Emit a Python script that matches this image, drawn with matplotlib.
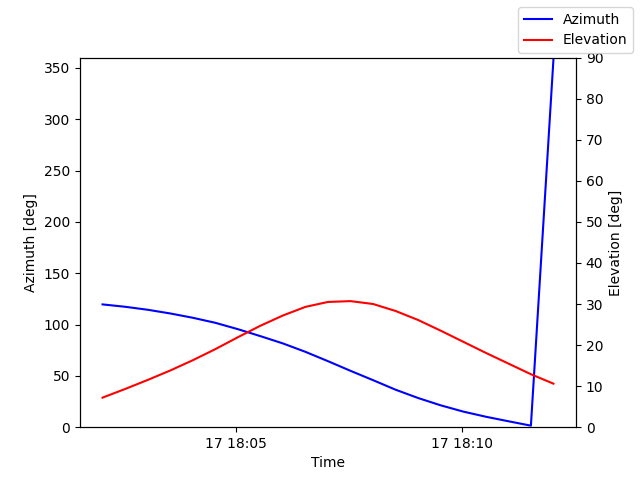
"""Satellite pass: azimuth and elevation against time."""
import matplotlib
matplotlib.use("Agg")
import matplotlib.pyplot as plt
import pandas as pd

start = "2023-03-17 18:02:02"
step_s = 30

azimuth = [119.6, 117.3, 114.4, 110.8, 106.6, 101.7, 95.5, 88.7, 81.6, 73.4,
           64.3, 54.9, 45.8, 36.5, 28.4, 21.3, 15.2, 10.2, 5.8, 1.5, 358.5]
elevation = [7.2, 9.3, 11.5, 13.8, 16.3, 19.0, 21.9, 24.7, 27.2, 29.3,
             30.5, 30.7, 30.0, 28.3, 26.1, 23.5, 20.8, 18.1, 15.5, 12.9, 10.6]

times = pd.date_range(start, periods=len(azimuth), freq=f"{step_s}s").to_pydatetime()

fig, ax = plt.subplots(figsize=(6.4, 4.8), dpi=100)
ax.plot(times, azimuth, "b", label="Azimuth")
ax.set_ylim(0, 360)
ax.set_ylabel("Azimuth [deg]")
ax.set_xlabel("Time")

ax2 = ax.twinx()
ax2.plot(times, elevation, "r", label="Elevation")
ax2.set_ylim(0, 90)
ax2.set_ylabel("Elevation [deg]")

fig.legend()
fig.savefig("out.png")
